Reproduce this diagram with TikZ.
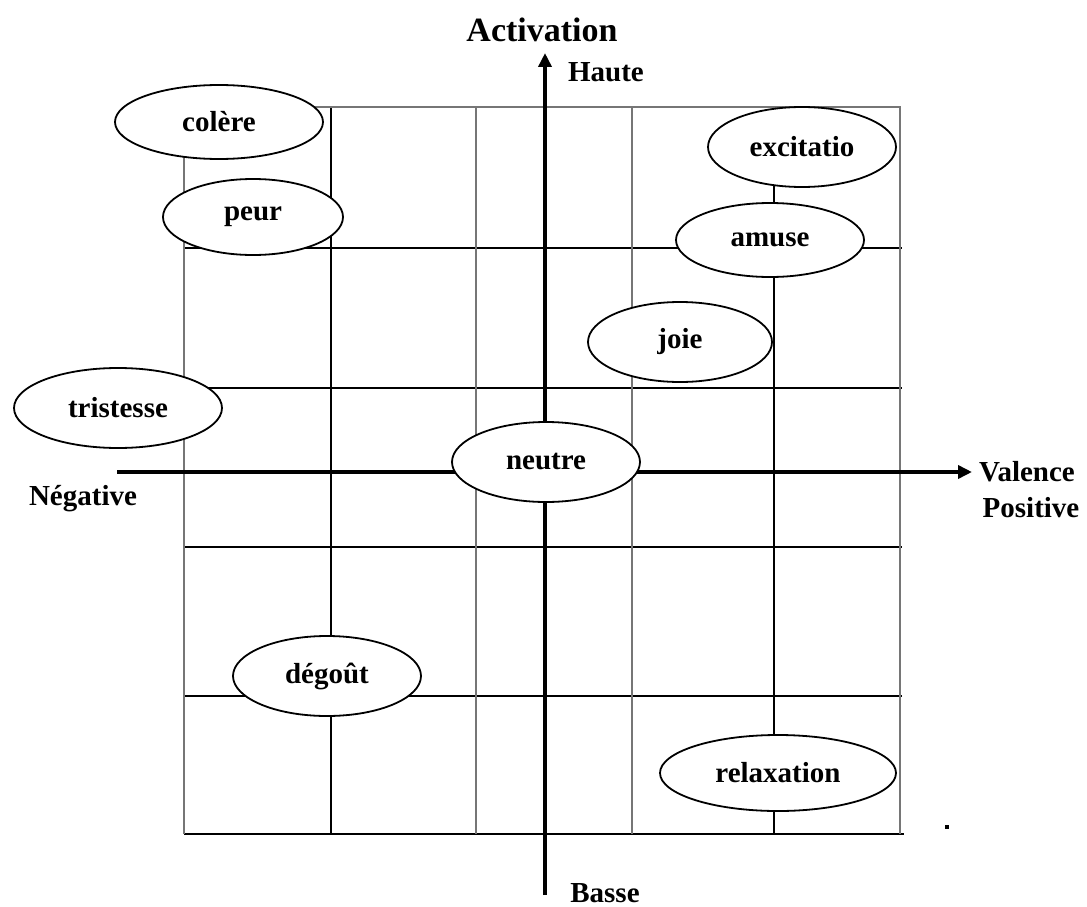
\documentclass[tikz,border=0pt]{standalone}
\usepackage{fontspec}
\setmainfont{Liberation Serif}
\usetikzlibrary{shapes.geometric,arrows.meta}
\definecolor{gridgray}{HTML}{767676}
\begin{document}
\begin{tikzpicture}[x=1pt,y=-1pt,
  emo/.style={ellipse,draw=black,line width=1.8pt,fill=white,inner sep=0pt,
    font=\fontsize{29}{32}\selectfont\bfseries},
  lbl/.style={inner sep=0pt,font=\fontsize{29}{32}\selectfont\bfseries},
  gridg/.style={draw=gridgray,line width=2.6pt},
  gridk/.style={draw=black,line width=1.8pt},
  axis/.style={draw=black,line width=4.5pt,-{Triangle[length=14pt,width=13pt]}}]
\useasboundingbox (0,0) rectangle (1087,907);

% grid of the valence / activation plane
\foreach \x in {331,774} \draw[gridk] (\x,107) -- (\x,834);
\foreach \y in {248,388,547,696} \draw[gridk] (184,\y) -- (902,\y);
\draw[gridk,line width=2.6pt] (184,834) -- (904,834);
\foreach \x in {184,476,632,900} \draw[gridg] (\x,107) -- (\x,834);
\draw[gridg] (184,107) -- (901,107);
\fill (945,825) rectangle (949,829);

% axes
\coordinate (xl) at (117,472);
\coordinate (xr) at (972,472);
\coordinate (yb) at (545,895);
\coordinate (yt) at (545,53);
\draw[axis] (xl) -- (xr);
\draw[axis,line width=4pt] (yb) -- (yt);

% axis labels
\node[lbl,font=\fontsize{34}{36}\selectfont\bfseries] (act) at (542,30) {Activation};
\node[lbl] (haute) at (606,72) {Haute};
\node[lbl] (basse) at (605,893) {Basse};
\node[lbl] (val) at (1027,472) {Valence};
\node[lbl] (pos) at (1031,508) {Positive};
\node[lbl] (neg) at (83,499) {Négative};

% emotions
\node[emo,minimum width=208pt,minimum height=74pt] (colere) at (219,122) {colère};
\node[emo,minimum width=180pt,minimum height=76pt] (peur) at (253,217) {peur};
\node[emo,minimum width=188pt,minimum height=80pt] (excit) at (802,147) {excitatio};
\node[emo,minimum width=188pt,minimum height=74pt] (amuse) at (770,240) {amuse};
\node[emo,minimum width=184pt,minimum height=80pt] (joie) at (680,342) {joie};
\node[emo,minimum width=208pt,minimum height=80pt] (trist) at (118,408) {tristesse};
\node[emo,minimum width=188pt,minimum height=80pt] (neutre) at (546,462) {neutre};
\node[emo,minimum width=188pt,minimum height=80pt] (degout) at (327,676) {dégoût};
\node[emo,minimum width=236pt,minimum height=76pt] (relax) at (778,773) {relaxation};
\end{tikzpicture}
\end{document}
